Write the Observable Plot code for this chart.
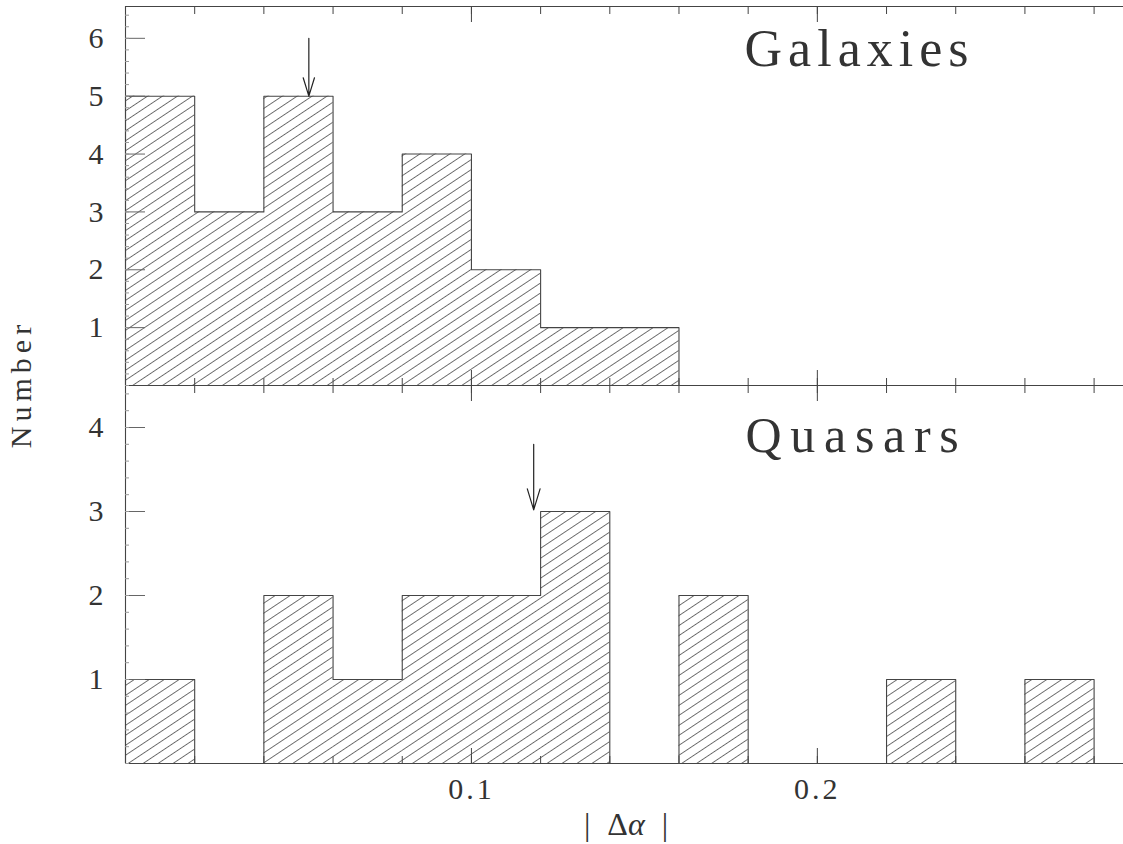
<!DOCTYPE html>
<html><head><meta charset="utf-8">
<script src="https://cdn.jsdelivr.net/npm/d3@7"></script>
<script src="https://cdn.jsdelivr.net/npm/@observablehq/plot@0.6"></script>
<style>
body{margin:0;background:#fff;}
#chart{position:relative;width:1123px;height:844px;overflow:hidden;background:#fff;}
#chart svg{position:absolute;left:0;overflow:visible;}
.lbl{position:absolute;font-family:"Liberation Serif",serif;color:#333;white-space:nowrap;line-height:1;}
</style></head><body><div id="chart"></div>
<script>
// ---- data ----
const binWidth = 0.02;
const galaxyBinStarts = [0, 0.02, 0.04, 0.06, 0.08, 0.10, 0.12, 0.14];
const galaxyCounts    = [5, 3, 5, 3, 4, 2, 1, 1];
const quasarBinStarts = [0, 0.02, 0.04, 0.06, 0.08, 0.10, 0.12, 0.14, 0.16, 0.18, 0.20, 0.22, 0.24, 0.26];
const quasarCounts    = [1, 0, 2, 1, 2, 2, 3, 0, 2, 0, 0, 1, 0, 1];
const galaxyArrow = [{x: 0.053, from: 6.0, to: 5.0}];
const quasarArrow = [{x: 0.118, from: 3.8, to: 3.02}];
const panelLabels = ["Galaxies", "Quasars"];
const galaxyYTicks = [1, 2, 3, 4, 5, 6];
const quasarYTicks = [1, 2, 3, 4];
const xTickLabels = [0.1, 0.2];
const xMinorTicks = d3.range(0, 0.29, 0.02);
const xMajorTicks = [0.1, 0.2];
const xDomain = [0, 0.2885];
const galaxyYDomain = [0, 6.55];
const quasarYDomain = [0, 4.5];

const ink = "#444";
const font = "Liberation Serif";

function bins(starts, counts) {
  return starts.map((s, i) => ({x1: s, x2: s + binWidth, y: counts[i]}));
}
function outline(starts, counts) {
  const pts = [{x: 0, y: 0}];
  starts.forEach((s, i) => pts.push({x: s, y: counts[i]}));
  const end = starts[starts.length - 1] + binWidth;
  pts.push({x: end, y: counts[counts.length - 1]});
  pts.push({x: end, y: 0});
  return pts;
}
function hatchDefs(id) {
  return () => {
    const defs = d3.create("svg:defs");
    const p = defs.append("pattern").attr("id", id)
      .attr("patternUnits", "userSpaceOnUse")
      .attr("width", 20).attr("height", 8.3)
      .attr("patternTransform", "rotate(-33.7)");
    p.append("line").attr("x1", -1).attr("x2", 21).attr("y1", 4.15).attr("y2", 4.15)
      .attr("stroke", "#555").attr("stroke-width", 0.85);
    return defs.node();
  };
}

function panel({id, starts, counts, yDomain, yTicks, arrow, label, height, marginTop, marginBottom, labelDx, labelDy, labelSize, labelSpacing, showX}) {
  const yMinor = d3.range(0, yDomain[1], 0.2);
  const marks = [
    hatchDefs(id),
    Plot.rectY(bins(starts, counts).filter(d => d.y > 0), {x1: "x1", x2: "x2", y: "y", fill: `url(#${id})`}),
    Plot.line(outline(starts, counts), {x: "x", y: "y", curve: "step-after", stroke: ink, strokeWidth: 1.1}),
    // frame
    Plot.ruleY([0], {stroke: ink, strokeWidth: 1.1}),
    Plot.ruleY([yDomain[1]], {stroke: ink, strokeWidth: 1.1}),
    Plot.ruleX([0], {stroke: ink, strokeWidth: 1.1}),
    // y ticks (inward)
    Plot.axisY({anchor: "left", ticks: yTicks, tickSize: -20, text: null, stroke: "#666"}),
    Plot.axisY({anchor: "left", ticks: yMinor, tickSize: -4, text: null, stroke: "#999"}),
    Plot.axisY({anchor: "left", ticks: yTicks, tickSize: 0, tickPadding: 19, tickFormat: d3.format("d"), fontSize: 30, fill: "#333"}),
    // x ticks top & bottom (inward)
    Plot.axisX({anchor: "top", ticks: xMinorTicks, tickSize: -7, text: null, stroke: ink}),
    Plot.axisX({anchor: "top", ticks: xMajorTicks, tickSize: -15, text: null, stroke: ink}),
    Plot.axisX({anchor: "bottom", ticks: xMinorTicks, tickSize: -7, text: null, stroke: ink}),
    Plot.axisX({anchor: "bottom", ticks: xMajorTicks, tickSize: -15, text: null, stroke: ink}),
    // arrow
    Plot.arrow(arrow, {x: "x", y1: "from", y2: "to", stroke: "#222", strokeWidth: 1.2, headAngle: 34, headLength: 30}),
    // panel label
    Plot.text([label], {frameAnchor: "top-right", dx: labelDx, dy: labelDy, fontSize: labelSize, fill: "#333", fontFamily: font, text: d => d})
  ];
  if (showX) {
    marks.push(Plot.axisX({anchor: "bottom", ticks: xTickLabels, tickSize: 0, tickPadding: 14, tickFormat: d3.format(".1f"), fontSize: 30, fill: "#333"}));
  }
  const svg = Plot.plot({
    width: 1123, height, marginLeft: 125, marginRight: 0, marginTop, marginBottom,
    style: {fontFamily: font, fontSize: "30px", color: "#333", background: "transparent", letterSpacing: "3px"},
    x: {domain: xDomain},
    y: {domain: yDomain},
    marks
  });
  svg.querySelectorAll("text").forEach(t => {
    if (t.textContent === label) t.style.letterSpacing = labelSpacing + "px";
  });
  return svg;
}

const chart = document.getElementById("chart");
const topPanel = panel({id: "hatchG", starts: galaxyBinStarts, counts: galaxyCounts, yDomain: galaxyYDomain, yTicks: galaxyYTicks,
  arrow: galaxyArrow, label: panelLabels[0], height: 385, marginTop: 6, marginBottom: 0,
  labelDx: -149, labelDy: 23, labelSize: 52, labelSpacing: 6, showX: false});
topPanel.style.top = "0px";
const bottomPanel = panel({id: "hatchQ", starts: quasarBinStarts, counts: quasarCounts, yDomain: quasarYDomain, yTicks: quasarYTicks,
  arrow: quasarArrow, label: panelLabels[1], height: 459, marginTop: 0, marginBottom: 81,
  labelDx: -156, labelDy: 31, labelSize: 50, labelSpacing: 8.7, showX: true});
bottomPanel.style.top = "385px";
chart.appendChild(bottomPanel);
chart.appendChild(topPanel);

const yLab = document.createElement("div");
yLab.className = "lbl";
yLab.textContent = "Number";
Object.assign(yLab.style, {fontSize: "30px", letterSpacing: "5px", left: "21px", top: "384px", transform: "translate(-50%,-50%) rotate(-90deg)"});
chart.appendChild(yLab);

const xLab = document.createElement("div");
xLab.className = "lbl";
xLab.innerHTML = '<span>|</span><span style="margin:0 17px">Δ<i>α</i></span><span>|</span>';
Object.assign(xLab.style, {fontSize: "32px", left: "626px", top: "824px", transform: "translate(-50%,-50%)"});
chart.appendChild(xLab);
</script>
</body></html>
